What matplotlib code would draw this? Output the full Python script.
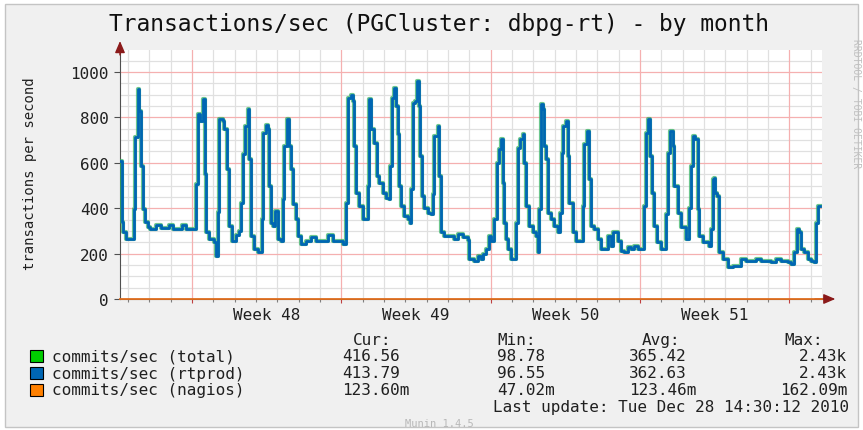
import numpy as np
import matplotlib.pyplot as plt
from matplotlib.patches import Rectangle

W, H = 863, 431
MONO = 'DejaVu Sans Mono'

# hours since Mon 29 Nov 2010 00:00, value changes
trace_hours = [-81, -79.3, -77.6, -74.3, -64.9, -63.8, -61.1, -59.3, -57.4, -55.5,
               -52.5, -49.8, -47.3, -40.5, -34.9, -25.9, -21.4, -11.3, -6.8, 4.5,
               6.4, 9, 12.7, 14.3, 15.8, 19.5, 25.1, 27, 28.9, 30.7,
               34.5, 36.3, 39, 42, 45, 49.5, 53.2, 55.1, 57, 60,
               62.7, 64.5, 66.4, 70.1, 73.9, 78.8, 80.2, 83.3, 85.8, 87,
               88.9, 91.5, 93.7, 96.4, 100.1, 102, 103.8, 106.5, 108.8, 111.4,
               114, 117, 118.9, 122.6, 128.3, 133.9, 139.5, 152.7, 158.3, 169.5,
               173.3, 175.2, 178.9, 180.8, 182.6, 184.5, 188.2, 192.7, 197.7, 199.5,
               201.4, 205.1, 207.8, 210.7, 214.5, 218.3, 222, 223.1, 224.7, 227.6,
               229.5, 231.4, 233.2, 235.1, 238.8, 242.7, 245.3, 246.4, 248.3, 251.2,
               253.1, 255, 256.5, 258.4, 261.3, 265.2, 268.9, 270.8, 272.6, 276.4,
               278.2, 280.1, 283.8, 289.5, 295.1, 298.9, 304.5, 310.2, 312, 317.6,
               321.4, 325.1, 327.7, 330.8, 333.8, 336.4, 340.1, 342.8, 345, 347.6,
               349.5, 351.3, 353.3, 355.2, 358.9, 364.5, 366.4, 369, 372, 373.8,
               375.8, 378.8, 383.3, 387, 388.9, 390.7, 392.6, 394.5, 396.3, 398.3,
               400.2, 403.9, 407.6, 411.4, 414, 416.3, 417.7, 420.8, 422.7, 424.5,
               428.3, 432, 439.5, 441.3, 444, 447, 448.9, 452.6, 456.4, 460.1,
               467.6, 471.4, 473.3, 478.9, 482.6, 486.4, 490.2, 493.9, 497.6, 501.4,
               508.2, 510.8, 513.3, 515.3, 517.5, 520.1, 522.8, 527.6, 533.3, 535.2,
               537.8, 540.8, 542.6, 546.4, 550.1, 555.8, 558.8, 561.4, 564, 566.2,
               568.9, 570.7, 574.5, 582, 583.9, 585.8, 587.6, 588.7, 590.6, 592.5,
               597, 602.6, 608.3, 617.6, 623.3, 634.5, 640.1, 651.4, 657, 662.6,
               670.2, 673.9, 677.6, 680.3, 683.2, 685.1, 688.9, 692.7, 696.4, 700.1,
               702, 703.9, 706.5]
trace_vals = [608, 340, 295, 265, 396, 713, 924, 828, 586, 396,
              338, 317, 310, 325, 312, 325, 310, 325, 310, 506,
              814, 785, 883, 550, 295, 264, 250, 191, 382, 792,
              784, 748, 572, 323, 257, 280, 300, 425, 638, 763,
              839, 616, 279, 220, 208, 352, 733, 767, 748, 499,
              337, 323, 389, 264, 257, 440, 675, 792, 675, 572,
              418, 352, 279, 242, 257, 271, 257, 283, 257, 242,
              425, 887, 898, 873, 675, 469, 411, 352, 499, 880,
              748, 689, 543, 513, 469, 447, 440, 586, 887, 931,
              851, 726, 499, 411, 367, 352, 337, 484, 865, 873,
              961, 851, 631, 455, 403, 381, 374, 462, 719, 763,
              543, 293, 279, 276, 264, 286, 271, 260, 176, 169,
              191, 176, 198, 220, 279, 257, 352, 601, 660, 704,
              513, 337, 264, 220, 176, 337, 667, 704, 726, 601,
              411, 323, 293, 279, 205, 396, 858, 836, 675, 616,
              381, 352, 323, 293, 381, 645, 763, 785, 631, 425,
              293, 257, 411, 682, 741, 528, 323, 308, 264, 220,
              279, 235, 293, 257, 213, 205, 227, 220, 235, 220,
              411, 733, 792, 631, 469, 323, 249, 220, 374, 645,
              741, 675, 499, 381, 316, 264, 403, 586, 719, 705,
              396, 279, 249, 235, 308, 528, 535, 469, 455, 205,
              176, 139, 147, 176, 169, 176, 169, 161, 176, 169,
              161, 154, 205, 308, 293, 220, 205, 176, 169, 161,
              337, 411, 411]
nagios_hours = [-81, 708.75]
nagios_vals = [0.1236, 0.1236]

week_starts = [0, 168, 336, 504, 672]
week_labels = ['Week 48', 'Week 49', 'Week 50', 'Week 51']

legend_names = ['commits/sec (total)', 'commits/sec (rtprod)', 'commits/sec (nagios)']
legend_colors = ['#00cc00', '#0066b3', '#ff8000']
cur_vals = ['416.56', '413.79', '123.60m']
min_vals = ['98.78', '96.55', '47.02m']
avg_vals = ['365.42', '362.63', '123.46m']
max_vals = ['2.43k', '2.43k', '162.09m']


def fx(x):
    return x / W


def fy(y):
    return 1 - y / H


fig = plt.figure(figsize=(W / 100, H / 100), dpi=100)
fig.patch.set_facecolor('white')
fig.add_artist(Rectangle((fx(5), fy(428)), 853 / W, 423 / H, transform=fig.transFigure,
                         facecolor='#f0f0f0', edgecolor='#c4c4c4', lw=1, zorder=-10))

ax = fig.add_axes([fx(120), fy(300), 702 / W, 249 / H])
ax.set_facecolor('white')
ax.set_xlim(-81, 708.75)
ax.set_ylim(0, 1097)

# grid
for h in range(-72, 709, 24):
    if h not in week_starts:
        ax.axvline(h, color='#e0e0e0', lw=0.9, zorder=1)
for v in range(50, 1100, 50):
    if v % 200:
        ax.axhline(v, color='#e0e0e0', lw=0.9, zorder=1)
for h in week_starts:
    ax.axvline(h, color='#f5b0b0', lw=0.9, zorder=1.5)
for v in range(200, 1001, 200):
    ax.axhline(v, color='#f5b0b0', lw=0.9, zorder=1.5)

ax.plot(trace_hours, trace_vals, drawstyle='steps-post', color='#30b060', lw=3.0,
        alpha=0.7, zorder=3)
ax.plot(trace_hours, trace_vals, drawstyle='steps-post', color='#0066b3', lw=2.0, zorder=3.5)
ax.plot(nagios_hours, nagios_vals, color='#e07020', lw=1.3, zorder=4, clip_on=False)

for s in ['top', 'right']:
    ax.spines[s].set_visible(False)
ax.spines['left'].set_color('#505050')
ax.spines['bottom'].set_color('#704020')

ax.set_yticks(range(0, 1001, 200))
ax.set_yticklabels([str(v) for v in range(0, 1001, 200)], fontfamily=MONO, fontsize=11.5,
                   color='#202020')
ax.set_xticks(week_starts)
ax.set_xticklabels([])
ax.set_xticks(range(-72, 709, 24), minor=True)
ax.tick_params(axis='y', length=4, width=0.8, color='#505050', pad=4)
ax.tick_params(axis='x', which='major', length=3, width=0.8, color='#c04040')
ax.tick_params(axis='x', which='minor', length=2, width=0.8, color='#808080')

for i, lab in enumerate(week_labels):
    ax.text((week_starts[i] + week_starts[i + 1]) / 2, -16 / 249, lab,
            transform=ax.get_xaxis_transform(), ha='center', va='center',
            fontfamily=MONO, fontsize=11.5, color='#202020')

# axis arrows
ax.annotate('', xy=(1.019, 0), xytext=(0.99, 0), xycoords='axes fraction',
            arrowprops=dict(arrowstyle='-|>,head_length=0.7,head_width=0.3',
                            color='#8b1a1a', lw=1.0, shrinkA=0, shrinkB=0),
            annotation_clip=False)
ax.annotate('', xy=(0, 1.036), xytext=(0, 0.98), xycoords='axes fraction',
            arrowprops=dict(arrowstyle='-|>,head_length=0.7,head_width=0.3',
                            color='#8b1a1a', lw=1.0, shrinkA=0, shrinkB=0),
            annotation_clip=False)

fig.text(fx(439), fy(25), 'Transactions/sec (PGCluster: dbpg-rt) - by month',
         ha='center', va='center', fontfamily=MONO, fontsize=16.5, color='#101010')
fig.text(fx(30), fy(174), 'transactions per second', rotation=90, ha='center',
         va='center', fontfamily=MONO, fontsize=10, color='#202020')
fig.text(fx(856), fy(104), 'RRDTOOL / TOBI OETIKER', rotation=270, ha='center',
         va='center', fontfamily=MONO, fontsize=7, color='#c0c0c0')

# legend table
tsize = 11.5
for label, x in zip(['Cur:', 'Min:', 'Avg:', 'Max:'], [353, 497, 642, 784]):
    fig.text(fx(x), fy(341), label, ha='left', va='center', fontfamily=MONO,
             fontsize=tsize, color='#202020')
for i, name in enumerate(legend_names):
    y = 357 + 17 * i
    fig.add_artist(Rectangle((fx(30), fy(y + 6)), 13 / W, 12 / H, transform=fig.transFigure,
                             facecolor=legend_colors[i], edgecolor='black', lw=0.8))
    fig.text(fx(52), fy(y), name, ha='left', va='center', fontfamily=MONO,
             fontsize=tsize, color='#202020')
    fig.text(fx(342), fy(y), cur_vals[i], ha='left', va='center', fontfamily=MONO,
             fontsize=tsize, color='#202020')
    fig.text(fx(497), fy(y), min_vals[i], ha='left', va='center', fontfamily=MONO,
             fontsize=tsize, color='#202020')
    fig.text(fx(629), fy(y), avg_vals[i], ha='left', va='center', fontfamily=MONO,
             fontsize=tsize, color='#202020')
    fig.text(fx(847), fy(y), max_vals[i], ha='right', va='center', fontfamily=MONO,
             fontsize=tsize, color='#202020')

fig.text(fx(849), fy(408), 'Last update: Tue Dec 28 14:30:12 2010', ha='right',
         va='center', fontfamily=MONO, fontsize=tsize, color='#202020')
fig.text(fx(439), fy(424), 'Munin 1.4.5', ha='center', va='center', fontfamily=MONO,
         fontsize=7.5, color='#b8b8b8')

fig.savefig('out.png', dpi=100, facecolor=fig.get_facecolor())
